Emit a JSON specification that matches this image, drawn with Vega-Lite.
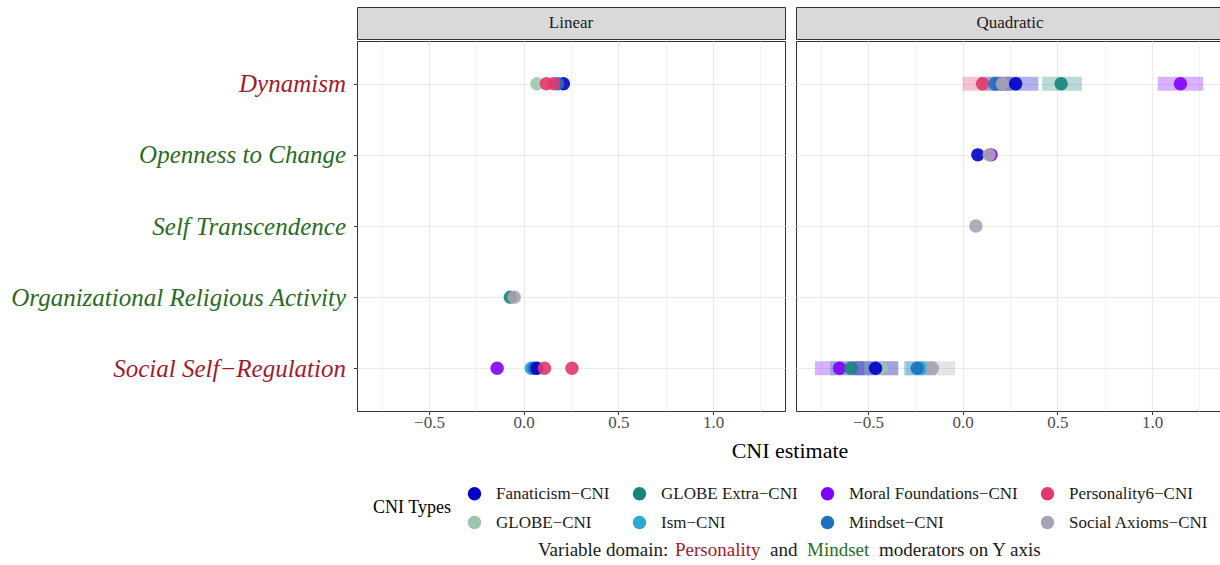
{
  "$schema": "https://vega.github.io/schema/vega-lite/v6.json",
  "padding": {"left": 5, "top": 6, "right": 0, "bottom": 5},
  "background": "white",
  "config": {
    "font": "Liberation Serif",
    "view": {"stroke": "#333333", "strokeWidth": 1},
    "axis": {"domain": false, "tickColor": "#333333", "tickSize": 3.5, "labelFont": "Liberation Serif", "labelColor": "#4D4D4D", "labelFontSize": 17, "titleFont": "Liberation Serif", "titleFontWeight": "normal", "titleColor": "black", "gridColor": "#EBEBEB"}
  },
  "datasets": {
    "d": [
      {"m": "Linear", "mod": "Dynamism", "type": "GLOBE−CNI", "est": 0.07},
      {"m": "Linear", "mod": "Dynamism", "type": "Fanaticism−CNI", "est": 0.21},
      {"m": "Linear", "mod": "Dynamism", "type": "Mindset−CNI", "est": 0.18},
      {"m": "Linear", "mod": "Dynamism", "type": "Personality6−CNI", "est": 0.12},
      {"m": "Linear", "mod": "Dynamism", "type": "Personality6−CNI", "est": 0.16},
      {"m": "Linear", "mod": "Organizational Religious Activity", "type": "GLOBE Extra−CNI", "est": -0.07},
      {"m": "Linear", "mod": "Organizational Religious Activity", "type": "Social Axioms−CNI", "est": -0.05},
      {"m": "Linear", "mod": "Social Self−Regulation", "type": "Moral Foundations−CNI", "est": -0.14},
      {"m": "Linear", "mod": "Social Self−Regulation", "type": "Ism−CNI", "est": 0.04},
      {"m": "Linear", "mod": "Social Self−Regulation", "type": "Mindset−CNI", "est": 0.055},
      {"m": "Linear", "mod": "Social Self−Regulation", "type": "Fanaticism−CNI", "est": 0.07},
      {"m": "Linear", "mod": "Social Self−Regulation", "type": "Personality6−CNI", "est": 0.11},
      {"m": "Linear", "mod": "Social Self−Regulation", "type": "Personality6−CNI", "est": 0.255},
      {"m": "Quadratic", "mod": "Dynamism", "type": "Personality6−CNI", "est": 0.105, "lo": 0.0, "hi": 0.21},
      {"m": "Quadratic", "mod": "Dynamism", "type": "Mindset−CNI", "est": 0.17, "lo": 0.09, "hi": 0.26},
      {"m": "Quadratic", "mod": "Dynamism", "type": "Social Axioms−CNI", "est": 0.21, "lo": 0.13, "hi": 0.3},
      {"m": "Quadratic", "mod": "Dynamism", "type": "Fanaticism−CNI", "est": 0.28, "lo": 0.16, "hi": 0.4},
      {"m": "Quadratic", "mod": "Dynamism", "type": "GLOBE Extra−CNI", "est": 0.52, "lo": 0.42, "hi": 0.63},
      {"m": "Quadratic", "mod": "Dynamism", "type": "Moral Foundations−CNI", "est": 1.15, "lo": 1.03, "hi": 1.27},
      {"m": "Quadratic", "mod": "Openness to Change", "type": "Fanaticism−CNI", "est": 0.08},
      {"m": "Quadratic", "mod": "Openness to Change", "type": "Moral Foundations−CNI", "est": 0.15},
      {"m": "Quadratic", "mod": "Openness to Change", "type": "Social Axioms−CNI", "est": 0.14},
      {"m": "Quadratic", "mod": "Self Transcendence", "type": "Social Axioms−CNI", "est": 0.07},
      {"m": "Quadratic", "mod": "Social Self−Regulation", "type": "Moral Foundations−CNI", "est": -0.65, "lo": -0.78, "hi": -0.52},
      {"m": "Quadratic", "mod": "Social Self−Regulation", "type": "GLOBE Extra−CNI", "est": -0.59, "lo": -0.7, "hi": -0.48},
      {"m": "Quadratic", "mod": "Social Self−Regulation", "type": "GLOBE−CNI", "est": -0.43, "lo": -0.52, "hi": -0.34},
      {"m": "Quadratic", "mod": "Social Self−Regulation", "type": "Fanaticism−CNI", "est": -0.46, "lo": -0.58, "hi": -0.34},
      {"m": "Quadratic", "mod": "Social Self−Regulation", "type": "Ism−CNI", "est": -0.22, "lo": -0.3, "hi": -0.14},
      {"m": "Quadratic", "mod": "Social Self−Regulation", "type": "Mindset−CNI", "est": -0.24, "lo": -0.31, "hi": -0.17},
      {"m": "Quadratic", "mod": "Social Self−Regulation", "type": "Social Axioms−CNI", "est": -0.16, "lo": -0.23, "hi": -0.04}
    ]
  },
  "resolve": {"legend": {"color": "shared"}, "scale": {"color": "shared"}},
  "spacing": 78,
  "vconcat": [
    {
      "spacing": 9,
      "title": {"text": "CNI estimate", "orient": "bottom", "anchor": "middle", "dx": 175, "offset": 10, "fontSize": 22, "fontWeight": "normal", "font": "Liberation Serif", "color": "black"},
      "hconcat": [
        {
          "spacing": 0,
          "vconcat": [
            {
              "data": {"values": [{"m": "Linear"}]},
              "width": 428, "height": 32,
              "view": {"fill": "#D9D9D9", "stroke": "#333333"},
              "mark": {"type": "text", "font": "Liberation Serif", "fontSize": 17, "color": "#1A1A1A", "baseline": "middle", "align": "center"},
              "encoding": {
                "text": {"field": "m"},
                "y": {"field": "m", "type": "nominal", "scale": {"type": "point", "padding": 0.5}, "axis": {"title": null, "labels": false, "ticks": false, "grid": false, "minExtent": 351, "maxExtent": 351}}
              }
            },
            {
              "data": {"name": "d"},
              "transform": [{"filter": "datum.m === 'Linear'"}],
              "width": 428, "height": 370,
              "mark": {"type": "circle", "size": 180, "opacity": 0.9},
              "encoding": {
                "y": {"field": "mod", "type": "nominal",
                  "scale": {"type": "point", "padding": 0.6, "domain": ["Dynamism", "Openness to Change", "Self Transcendence", "Organizational Religious Activity", "Social Self−Regulation"]},
                  "axis": {"title": null, "labelFontSize": 25, "labelFontStyle": "italic", "labelPadding": 8, "labelLimit": 500, "minExtent": 351, "maxExtent": 351, "grid": true, "gridWidth": 1.2,
                    "labelColor": {"condition": {"test": "datum.value === 'Dynamism' || datum.value === 'Social Self−Regulation'", "value": "#A31A2D"}, "value": "#2A6B24"}}},
                "x": {"field": "est", "type": "quantitative",
                  "scale": {"domain": [-0.88, 1.38], "nice": false, "zero": false},
                  "axis": {"values": [-0.75, -0.5, -0.25, 0, 0.25, 0.5, 0.75, 1, 1.25],
                    "labelExpr": "abs(datum.value*2 - round(datum.value*2)) < 0.01 ? format(datum.value, '.1f') : ''",
                    "labelFlush": false, "labelPadding": 0, "title": null,
                    "grid": true,
                    "gridWidth": {"condition": {"test": "abs(datum.value*2 - round(datum.value*2)) > 0.01", "value": 0.6}, "value": 1.2},
                    "tickOpacity": {"condition": {"test": "abs(datum.value*2 - round(datum.value*2)) > 0.01", "value": 0}, "value": 1}}},
                "color": {"field": "type", "type": "nominal",
                  "scale": {"domain": ["Fanaticism−CNI", "GLOBE Extra−CNI", "Moral Foundations−CNI", "Personality6−CNI", "GLOBE−CNI", "Ism−CNI", "Mindset−CNI", "Social Axioms−CNI"],
                    "range": ["#0000C8", "#17837A", "#8000FF", "#E0386A", "#9DC5AC", "#2BA9D2", "#1A72C0", "#A8A2B2"]},
                  "legend": {"orient": "none", "legendX": 16, "legendY": 478, "columns": 4, "direction": "horizontal",
                    "title": "CNI Types", "titleOrient": "left", "titleAnchor": "middle", "titleBaseline": "middle", "titleFontSize": 18, "titleFontWeight": "normal", "titleColor": "black", "titlePadding": 14, "titleFont": "Liberation Serif",
                    "labelFont": "Liberation Serif", "labelFontSize": 17, "labelColor": "#1A1A1A", "labelOffset": 13, "labelLimit": 400,
                    "symbolType": "circle", "symbolSize": 180, "symbolOpacity": 1, "symbolStrokeWidth": 0,
                    "columnPadding": 21, "rowPadding": 11}}
              }
            }
          ]
        },
        {
          "spacing": 0,
          "vconcat": [
            {
              "data": {"values": [{"m": "Quadratic"}]},
              "width": 428, "height": 32,
              "view": {"fill": "#D9D9D9", "stroke": "#333333"},
              "mark": {"type": "text", "font": "Liberation Serif", "fontSize": 17, "color": "#1A1A1A", "baseline": "middle", "align": "center"},
              "encoding": {
                "text": {"field": "m"},
                "y": {"field": "m", "type": "nominal", "scale": {"type": "point", "padding": 0.5}, "axis": null}
              }
            },
            {
              "data": {"name": "d"},
              "transform": [{"filter": "datum.m === 'Quadratic'"}],
              "width": 428, "height": 370,
              "encoding": {
                "y": {"field": "mod", "type": "nominal",
                  "scale": {"type": "point", "padding": 0.6, "domain": ["Dynamism", "Openness to Change", "Self Transcendence", "Organizational Religious Activity", "Social Self−Regulation"]},
                  "axis": {"title": null, "labels": false, "ticks": false, "minExtent": 0, "maxExtent": 0, "grid": true, "gridWidth": 1.2}},
                "color": {"field": "type", "type": "nominal",
                  "scale": {"domain": ["Fanaticism−CNI", "GLOBE Extra−CNI", "Moral Foundations−CNI", "Personality6−CNI", "GLOBE−CNI", "Ism−CNI", "Mindset−CNI", "Social Axioms−CNI"],
                    "range": ["#0000C8", "#17837A", "#8000FF", "#E0386A", "#9DC5AC", "#2BA9D2", "#1A72C0", "#A8A2B2"]},
                  "legend": null}
              },
              "layer": [
                {
                  "mark": {"type": "bar", "size": 14, "opacity": 0.3},
                  "encoding": {
                    "x": {"field": "lo", "type": "quantitative", "scale": {"domain": [-0.88, 1.38], "nice": false, "zero": false},
                      "axis": {"values": [-0.75, -0.5, -0.25, 0, 0.25, 0.5, 0.75, 1, 1.25],
                        "labelExpr": "abs(datum.value*2 - round(datum.value*2)) < 0.01 ? format(datum.value, '.1f') : ''",
                        "labelFlush": false, "labelPadding": 0, "title": null,
                        "grid": true,
                        "gridWidth": {"condition": {"test": "abs(datum.value*2 - round(datum.value*2)) > 0.01", "value": 0.6}, "value": 1.2},
                        "tickOpacity": {"condition": {"test": "abs(datum.value*2 - round(datum.value*2)) > 0.01", "value": 0}, "value": 1}}},
                    "x2": {"field": "hi"}
                  }
                },
                {
                  "mark": {"type": "circle", "size": 180, "opacity": 0.9},
                  "encoding": {
                    "x": {"field": "est", "type": "quantitative",
                      "scale": {"domain": [-0.88, 1.38], "nice": false, "zero": false},
                      "axis": {"values": [-0.75, -0.5, -0.25, 0, 0.25, 0.5, 0.75, 1, 1.25],
                        "labelExpr": "abs(datum.value*2 - round(datum.value*2)) < 0.01 ? format(datum.value, '.1f') : ''",
                        "labelFlush": false, "labelPadding": 0, "title": null,
                        "grid": true,
                        "gridWidth": {"condition": {"test": "abs(datum.value*2 - round(datum.value*2)) > 0.01", "value": 0.6}, "value": 1.2},
                        "tickOpacity": {"condition": {"test": "abs(datum.value*2 - round(datum.value*2)) > 0.01", "value": 0}, "value": 1}}}
                  }
                }
              ]
            }
          ]
        }
      ]
    },
    {
      "data": {"values": [{"c": 1}]},
      "width": 866, "height": 20,
      "view": {"stroke": null},
      "layer": [
        {"mark": {"type": "text", "text": "Variable domain:", "align": "left", "baseline": "middle", "dx": -252, "fontSize": 19, "color": "#1A1A1A", "font": "Liberation Serif"}},
        {"mark": {"type": "text", "text": "Personality", "align": "left", "baseline": "middle", "dx": -115, "fontSize": 19, "color": "#A31A2D", "font": "Liberation Serif"}},
        {"mark": {"type": "text", "text": "and", "align": "left", "baseline": "middle", "dx": -20, "fontSize": 19, "color": "#1A1A1A", "font": "Liberation Serif"}},
        {"mark": {"type": "text", "text": "Mindset", "align": "left", "baseline": "middle", "dx": 17, "fontSize": 19, "color": "#2A6B24", "font": "Liberation Serif"}},
        {"mark": {"type": "text", "text": "moderators on Y axis", "align": "left", "baseline": "middle", "dx": 89, "fontSize": 19, "color": "#1A1A1A", "font": "Liberation Serif"}}
      ]
    }
  ]
}
